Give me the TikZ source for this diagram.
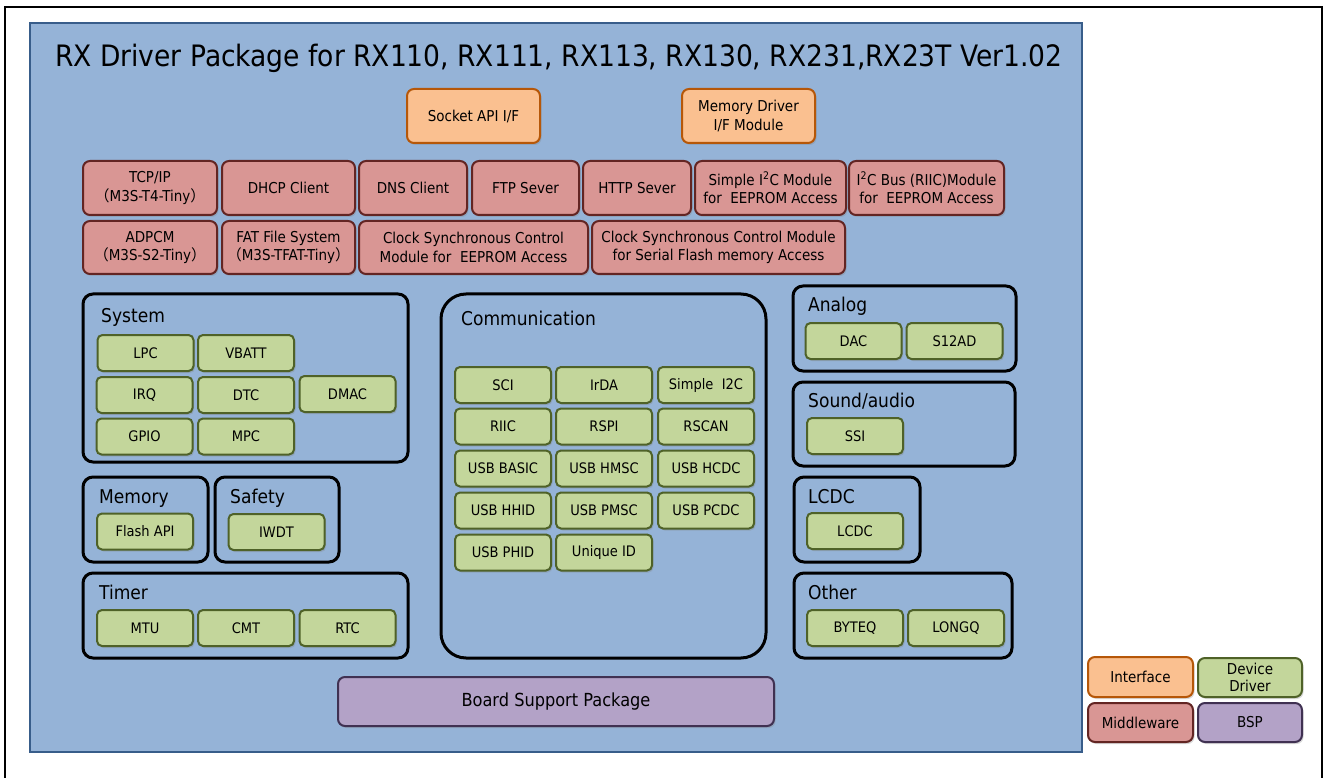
\documentclass[tikz,border=0pt]{standalone}
\usepackage{fontspec}
\setmainfont{DejaVu Sans Condensed}
\newfontfamily\cjk{Noto Sans CJK SC}
\usetikzlibrary{shadows}
\definecolor{panelfill}{HTML}{95B3D7}
\definecolor{panelline}{HTML}{385D8A}
\definecolor{iffill}{HTML}{FAC090}
\definecolor{ifline}{HTML}{B65708}
\definecolor{mwfill}{HTML}{D99694}
\definecolor{mwline}{HTML}{632523}
\definecolor{ddfill}{HTML}{C3D69B}
\definecolor{ddline}{HTML}{4F6228}
\definecolor{bspfill}{HTML}{B3A2C7}
\definecolor{bspline}{HTML}{403152}
\newcommand{\lp}{{\cjk （}}
\newcommand{\rp}{{\cjk ）}}
\tikzset{
	blk/.style={rounded corners=7pt, line width=2pt, align=center, inner sep=0pt,
		font=\fontsize{15}{18.5}\selectfont,
		drop shadow={shadow xshift=1.5pt, shadow yshift=-2pt, opacity=0.3}},
	iface/.style={blk, fill=iffill, draw=ifline, minimum height=54pt},
	mware/.style={blk, fill=mwfill, draw=mwline, minimum height=54pt},
	drv/.style={blk, rounded corners=5pt, fill=ddfill, draw=ddline, minimum width=96pt, minimum height=36pt,
		font=\fontsize{14.5}{16}\selectfont},
	bspbox/.style={blk, fill=bspfill, draw=bspline},
	grp/.style={draw=black, line width=3pt, rounded corners=10pt},
	grplabel/.style={anchor=base west, inner sep=0pt, font=\fontsize{19}{22}\selectfont}
}
\begin{document}
\begin{tikzpicture}[x=1pt, y=-1pt]
	\useasboundingbox (0, 0) rectangle (1326, 778);
	\draw[line width=2pt] (5, 778) -- (5, 7) -- (1322, 7) -- (1322, 778);
	\draw[fill=panelfill, draw=panelline, line width=2pt] (30, 23) rectangle (1082, 752);
	\node[anchor=base west, inner sep=0pt, font=\fontsize{29.5}{32}\selectfont] at (55, 67) (title)
		{RX Driver Package for RX110, RX111, RX113, RX130, RX231,RX23T Ver1.02};
	% interface
	\node[iface, minimum width=133pt] at (473.5, 116) (sock) {Socket API I/F};
	\node[iface, minimum width=133pt] at (748.5, 116) (memif) {Memory Driver\\I/F Module};
	% middleware
	\node[mware, minimum width=134pt] at (150, 188)   (tcpip) {TCP/IP\\\lp M3S-T4-Tiny\rp};
	\node[mware, minimum width=133pt] at (288.5, 188) (dhcp) {DHCP Client};
	\node[mware, minimum width=108pt] at (413, 188)   (dns) {DNS Client};
	\node[mware, minimum width=107pt] at (525.5, 188) (ftp) {FTP Sever};
	\node[mware, minimum width=108pt] at (637, 188)   (http) {HTTP Sever};
	\node[mware, minimum width=151pt] at (770.5, 188) (siic) {Simple I\textsuperscript{2}C Module\\for\ \ EEPROM Access};
	\node[mware, minimum width=155pt] at (926.5, 188) (riicee) {I\textsuperscript{2}C Bus (RIIC)Module\\for\ \ EEPROM Access};
	\node[mware, minimum width=134pt, minimum height=53pt] at (150, 247.5)   (adpcm) {ADPCM\\\lp M3S-S2-Tiny\rp};
	\node[mware, minimum width=133pt, minimum height=53pt] at (288.5, 247.5) (fat) {FAT File System\\\lp M3S-TFAT-Tiny\rp};
	\node[mware, minimum width=229pt, minimum height=53pt] at (473.5, 247.5) (csee) {Clock Synchronous Control\\Module for\ \ EEPROM Access};
	\node[mware, minimum width=253pt, minimum height=53pt] at (718.5, 247.5) (cssf) {Clock Synchronous Control Module\\for Serial Flash memory Access};
	% groups
	\draw[grp] (83, 294) rectangle (408, 462);
	\draw[grp] (83, 477) rectangle (208, 562);
	\draw[grp] (215, 477) rectangle (339, 562);
	\draw[grp] (83, 573) rectangle (408, 658);
	\draw[grp, rounded corners=25pt] (441, 294) rectangle (766, 658);
	\draw[grp] (793, 286) rectangle (1016, 371);
	\draw[grp] (793, 382) rectangle (1015, 466);
	\draw[grp] (794, 477) rectangle (920, 562);
	\draw[grp] (794, 573) rectangle (1012, 658);
	\node[grplabel] at (101, 322) (lsys) {System};
	\node[grplabel] at (99, 503)  (lmem) {Memory};
	\node[grplabel] at (230, 503) (lsaf) {Safety};
	\node[grplabel] at (99, 599)  (ltmr) {Timer};
	\node[grplabel] at (461, 325) (lcom) {Communication};
	\node[grplabel] at (808, 312) (lana) {Analog};
	\node[grplabel] at (808, 407) (lsnd) {Sound/audio};
	\node[grplabel] at (808, 503) (llcd) {LCDC};
	\node[grplabel] at (808, 599) (loth) {Other};
	% system
	\node[drv] at (145.5, 353) (lpc) {LPC};
	\node[drv] at (246, 353)   (vbatt) {VBATT};
	\node[drv] at (144.5, 395) (irq) {IRQ};
	\node[drv] at (246, 395)   (dtc) {DTC};
	\node[drv] at (347.5, 394) (dmac) {DMAC};
	\node[drv] at (144.5, 436.5) (gpio) {GPIO};
	\node[drv] at (246, 436.5)   (mpc) {MPC};
	% memory, safety, timer
	\node[drv] at (145, 531.5)   (flash) {Flash API};
	\node[drv] at (276.5, 532)   (iwdt) {IWDT};
	\node[drv] at (145, 628)   (mtu) {MTU};
	\node[drv] at (246, 628)   (cmt) {CMT};
	\node[drv] at (347.5, 628) (rtc) {RTC};
	% communication
	\node[drv] at (503, 385)   (sci) {SCI};
	\node[drv] at (604, 385)   (irda) {IrDA};
	\node[drv] at (706, 385)   (sii2c) {Simple\ \ I2C};
	\node[drv] at (503, 426.5) (riic) {RIIC};
	\node[drv] at (604, 426.5) (rspi) {RSPI};
	\node[drv] at (706, 426.5) (rscan) {RSCAN};
	\node[drv] at (503, 468.5) (ubasic) {USB BASIC};
	\node[drv] at (604, 468.5) (uhmsc) {USB HMSC};
	\node[drv] at (706, 468.5) (uhcdc) {USB HCDC};
	\node[drv] at (503, 510.5) (uhhid) {USB HHID};
	\node[drv] at (604, 510.5) (upmsc) {USB PMSC};
	\node[drv] at (706, 510.5) (upcdc) {USB PCDC};
	\node[drv] at (503, 552.5) (uphid) {USB PHID};
	\node[drv] at (604, 552.5) (uid) {Unique ID};
	% analog, sound, lcdc, other
	\node[drv] at (853.5, 341) (dac) {DAC};
	\node[drv] at (954.5, 341) (s12ad) {S12AD};
	\node[drv] at (855, 436)   (ssi) {SSI};
	\node[drv] at (855, 531)   (lcdc) {LCDC};
	\node[drv] at (855, 628)   (byteq) {BYTEQ};
	\node[drv] at (956, 628)   (longq) {LONGQ};
	% bsp
	\node[bspbox, minimum width=436pt, minimum height=49pt, font=\fontsize{18}{20}\selectfont] at (556, 701.5) (bsp) {Board Support Package};
	% legend
	\node[iface, minimum width=105pt, minimum height=40pt] at (1140.5, 677) (kif) {Interface};
	\node[drv, rounded corners=7pt, minimum width=104pt, minimum height=39pt, font=\fontsize{15}{17}\selectfont] at (1250, 677.5) (kdd) {Device\\Driver};
	\node[mware, minimum width=105pt, minimum height=39pt] at (1140.5, 722.5) (kmw) {Middleware};
	\node[bspbox, minimum width=104pt, minimum height=39pt] at (1250, 722.5) (kbsp) {BSP};
\end{tikzpicture}
\end{document}
